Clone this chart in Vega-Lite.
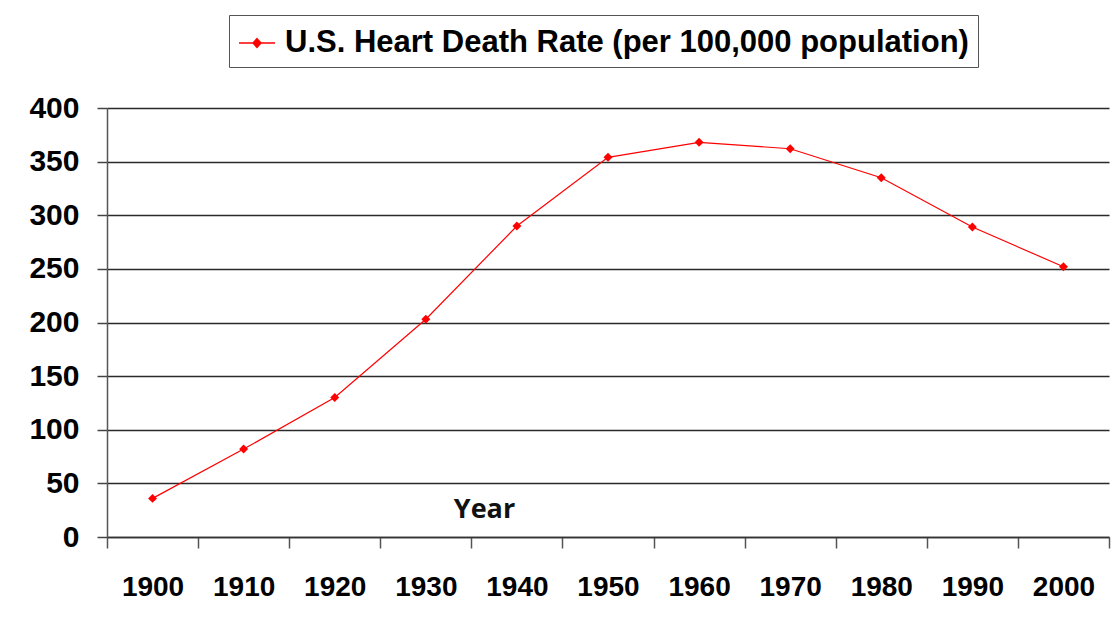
{
  "$schema": "https://vega.github.io/schema/vega-lite/v6.json",
  "autosize": {"type": "none"},
  "padding": {"left": 107, "top": 108, "right": 8, "bottom": 92},
  "width": 1002,
  "height": 429,
  "background": "white",
  "data": {
    "values": [
      {"year": "1900", "rate": 36},
      {"year": "1910", "rate": 82},
      {"year": "1920", "rate": 130},
      {"year": "1930", "rate": 203},
      {"year": "1940", "rate": 290},
      {"year": "1950", "rate": 354},
      {"year": "1960", "rate": 368},
      {"year": "1970", "rate": 362},
      {"year": "1980", "rate": 335},
      {"year": "1990", "rate": 289},
      {"year": "2000", "rate": 252}
    ]
  },
  "mark": {
    "type": "line",
    "strokeWidth": 1.2,
    "point": {"shape": "diamond", "size": 80, "filled": true, "color": "#ff0000"}
  },
  "encoding": {
    "x": {
      "field": "year",
      "type": "ordinal",
      "bandPosition": 0.5,
      "scale": {"type": "band", "paddingInner": 0, "paddingOuter": 0},
      "axis": {
        "title": "Year",
        "titleFont": "Open Sans",
        "titleFontSize": 27,
        "titleFontWeight": "bold",
        "titleColor": "#111",
        "titleX": 377,
        "titleY": -41,
        "titleBaseline": "top",
        "titleAnchor": "middle",
        "labelAngle": 0,
        "labelFont": "Liberation Sans",
        "labelFontSize": 28,
        "labelFontWeight": "bold",
        "labelColor": "#000",
        "labelBaseline": "top",
        "labelPadding": 25,
        "tickBand": "extent",
        "tickSize": 11,
        "tickColor": "#555",
        "tickWidth": 1.5,
        "domainColor": "#333",
        "domainWidth": 1.5,
        "grid": false
      }
    },
    "y": {
      "field": "rate",
      "type": "quantitative",
      "scale": {"domain": [0, 400], "nice": false},
      "axis": {
        "title": null,
        "values": [0, 50, 100, 150, 200, 250, 300, 350, 400],
        "labelFont": "Liberation Sans",
        "labelFontSize": 30,
        "labelFontWeight": "bold",
        "labelColor": "#000",
        "labelPadding": 18,
        "tickSize": 10,
        "tickColor": "#444",
        "tickWidth": 1.5,
        "domainColor": "#555",
        "domainWidth": 1.5,
        "grid": true,
        "gridColor": "#2a2a2a",
        "gridWidth": 1.5,
        "gridOpacity": 1
      }
    },
    "color": {
      "datum": "U.S. Heart Death Rate (per 100,000 population)",
      "type": "nominal",
      "scale": {"range": ["#ff0000"]},
      "legend": {
        "title": null,
        "orient": "none",
        "legendX": 122,
        "legendY": -93,
        "strokeColor": "#555",
        "fillColor": "white",
        "padding": 9,
        "labelFont": "Liberation Sans",
        "labelFontSize": 31,
        "labelFontWeight": "bold",
        "labelColor": "#000",
        "labelOffset": 9,
        "labelLimit": 900,
        "symbolType": "M-1,0L1,0M0,-0.24L0.22,0L0,0.24L-0.22,0Z",
        "symbolSize": 1296,
        "symbolStrokeWidth": 1.5,
        "encode": {
          "symbols": {"update": {"fill": {"value": "#ff0000"}, "stroke": {"value": "#ff0000"}}}
        }
      }
    }
  },
  "config": {
    "view": {"stroke": null}
  }
}
